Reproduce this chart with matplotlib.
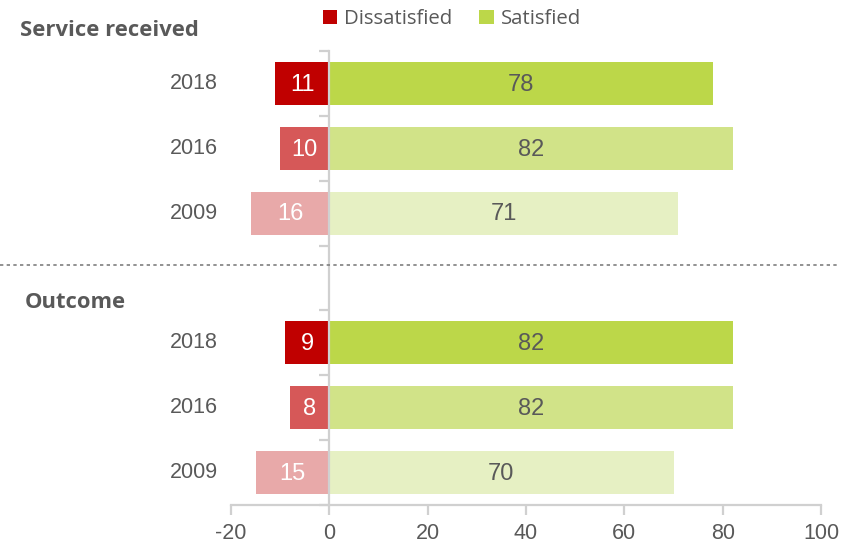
import matplotlib
matplotlib.use("Agg")
import matplotlib.pyplot as plt
from matplotlib.patches import Patch
from matplotlib.lines import Line2D
import matplotlib.transforms as mtransforms

# Survey data: share of respondents (%) by year
sections = ["Service received", "Outcome"]
years = ["2018", "2016", "2009"]
service_dissatisfied = [11, 10, 16]
service_satisfied = [78, 82, 71]
outcome_dissatisfied = [9, 8, 15]
outcome_satisfied = [82, 82, 70]
x_ticks = [-20, 0, 20, 40, 60, 80, 100]

red_shades = ["#C00000", "#D65858", "#E8A9A9"]
green_shades = ["#BCD749", "#D1E388", "#E6F0C3"]
label_colour = "#595959"
axis_grey = "#D0D0D0"

plt.rcParams["font.family"] = ["Liberation Sans", "DejaVu Sans"]

fig = plt.figure(figsize=(8.55, 5.46), dpi=100)
ax = fig.add_axes([231 / 855, 1 - 505 / 546, 590 / 855, 454 / 546])

# Row positions: three years per section with an empty row between sections
rows = {"Service received": [0, 1, 2], "Outcome": [4, 5, 6]}
data = {
    "Service received": (service_dissatisfied, service_satisfied),
    "Outcome": (outcome_dissatisfied, outcome_satisfied),
}

bar_h = 0.66
trans = mtransforms.blended_transform_factory(ax.transAxes, ax.transData)
for sec in sections:
    dis, sat = data[sec]
    for i, y in enumerate(rows[sec]):
        ax.barh(y, -dis[i], height=bar_h, color=red_shades[i], edgecolor="none", zorder=2)
        ax.barh(y, sat[i], height=bar_h, color=green_shades[i], edgecolor="none", zorder=2)
        ax.text(-dis[i] / 2, y + 0.02, str(dis[i]), ha="center", va="center",
                color="white", fontsize=17, zorder=3)
        ax.text(sat[i] / 2, y + 0.02, str(sat[i]), ha="center", va="center",
                color=label_colour, fontsize=17, zorder=3)
        # Year label to the left of the plot
        ax.text(-0.022, y, years[i], transform=trans, ha="right", va="center",
                color=label_colour, fontsize=15.5)

ax.set_xlim(-20, 100)
ax.set_ylim(6.5, -0.5)

# Axes styling
for side in ["top", "right"]:
    ax.spines[side].set_visible(False)
ax.spines["left"].set_position(("data", 0))
ax.spines["left"].set_color(axis_grey)
ax.spines["left"].set_linewidth(1.6)
ax.spines["left"].set_zorder(4)
ax.spines["bottom"].set_color(axis_grey)
ax.spines["bottom"].set_linewidth(1.6)

ax.set_xticks(x_ticks)
ax.set_xticklabels([str(t) for t in x_ticks])
ax.tick_params(axis="x", direction="out", length=7, width=1.6, color=axis_grey,
               labelsize=15.5, labelcolor=label_colour, pad=6)
ax.set_yticks([k - 0.5 for k in range(8)])
ax.set_yticklabels([])
ax.tick_params(axis="y", direction="out", length=7, width=1.6, color=axis_grey)

# Section headings
fig.text(20 / 855, 1 - 30 / 546, sections[0], ha="left", va="center",
         fontsize=15.8, fontweight="bold", color=label_colour, family="Open Sans")
fig.text(25 / 855, 1 - 302 / 546, sections[1], ha="left", va="center",
         fontsize=15.8, fontweight="bold", color=label_colour, family="Open Sans")

# Dotted separator between sections
fig.add_artist(Line2D([0, 837 / 855], [1 - 265 / 546, 1 - 265 / 546],
                      transform=fig.transFigure, color="#7F7F7F", lw=1.2,
                      linestyle=(0, (2, 2))))

# Legend
handles = [Patch(facecolor=red_shades[0], edgecolor="none", label="Dissatisfied"),
           Patch(facecolor=green_shades[0], edgecolor="none", label="Satisfied")]
leg = fig.legend(handles=handles, loc="center", bbox_to_anchor=(452 / 855, 1 - 19 / 546),
                 ncol=2, frameon=False, handlelength=0.7,
                 handleheight=0.7, handletextpad=0.35, columnspacing=1.3,
                 prop={"family": "Open Sans", "size": 14.7})
for t in leg.get_texts():
    t.set_color(label_colour)

fig.savefig("out.png", dpi=100)
